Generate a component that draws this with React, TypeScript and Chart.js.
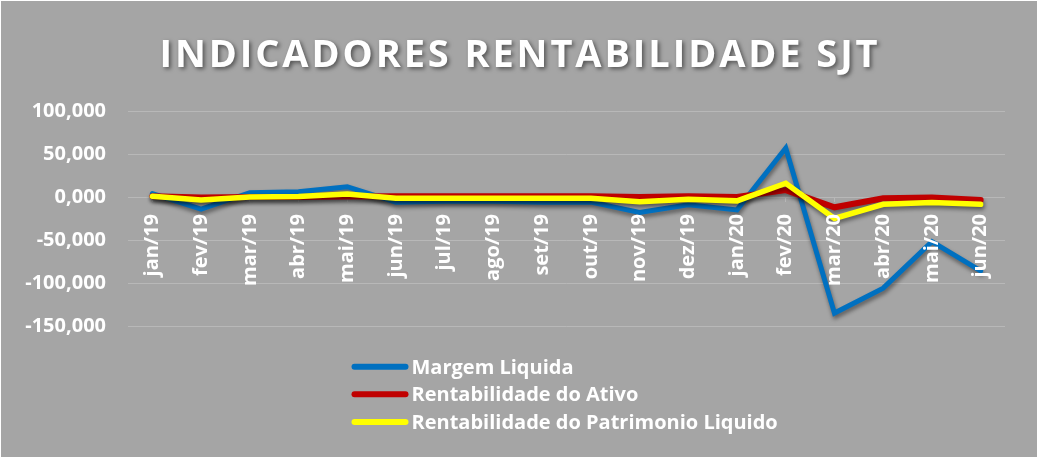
import React, { useEffect, useRef } from 'react';
import { Chart, registerables } from 'chart.js';

Chart.register(...registerables);

const categories = [
  'jan/19', 'fev/19', 'mar/19', 'abr/19', 'mai/19', 'jun/19', 'jul/19', 'ago/19', 'set/19',
  'out/19', 'nov/19', 'dez/19', 'jan/20', 'fev/20', 'mar/20', 'abr/20', 'mai/20', 'jun/20',
];
const margemLiquida = [4, -14, 5, 6, 12, -6, -5, -5, -6, -6, -18, -9, -15, 57, -135, -106, -52, -86];
const rentabilidadeAtivo = [1, -0.5, 0, 0, 0.5, 1, 1, 1, 1, 1, 0, 1, 0, 8, -12, -1.5, -0.5, -3.5];
const rentabilidadePatrimonio = [1, -3.5, 0, 0.5, 3.5, -1.5, -1.5, -1.5, -1.5, -1.5, -5.5, -2.5, -4.5, 16, -25, -8.5, -6.5, -8.5];
const seriesNames = ['Margem Liquida', 'Rentabilidade do Ativo', 'Rentabilidade do Patrimonio Liquido'];
const seriesColors = ['#0070C0', '#C00000', '#FFFF00'];
const yMin = -150;
const yMax = 100;
const yStep = 50;
const titleText = 'INDICADORES RENTABILIDADE SJT';

const gridColor = '#b8b8b8';
const fontFamily = '"Open Sans", "DejaVu Sans", sans-serif';

const fmt = (v: number) => v.toFixed(3).replace('.', ',');

const decorPlugin = {
  id: 'decor',
  beforeDatasetDraw(chart: any) {
    const ctx = chart.ctx;
    ctx.save();
    ctx.shadowColor = 'rgba(0,0,0,0.45)';
    ctx.shadowBlur = 4;
    ctx.shadowOffsetX = 1;
    ctx.shadowOffsetY = 3;
  },
  afterDatasetDraw(chart: any) {
    chart.ctx.restore();
  },
  afterDraw(chart: any) {
    const ctx = chart.ctx;
    // title
    ctx.save();
    ctx.font = `bold 38px ${fontFamily}`;
    (ctx as any).letterSpacing = '2.9px';
    ctx.fillStyle = '#ffffff';
    ctx.textAlign = 'center';
    ctx.textBaseline = 'alphabetic';
    ctx.shadowColor = 'rgba(0,0,0,0.5)';
    ctx.shadowBlur = 4;
    ctx.shadowOffsetX = 2;
    ctx.shadowOffsetY = 2;
    ctx.fillText(titleText, chart.width / 2 + 1, 66);
    ctx.restore();

    // legend
    const rowsY = [365.7, 393.3, 421];
    const x0 = 353.5;
    const x1 = 404.5;
    ctx.save();
    chart.data.datasets.forEach((ds: any, i: number) => {
      const y = rowsY[i];
      ctx.beginPath();
      ctx.strokeStyle = ds.borderColor;
      ctx.lineWidth = 6;
      ctx.lineCap = 'round';
      ctx.moveTo(x0, y);
      ctx.lineTo(x1, y);
      ctx.stroke();
      ctx.font = `bold 20px ${fontFamily}`;
      ctx.fillStyle = '#ffffff';
      ctx.textAlign = 'left';
      ctx.textBaseline = 'alphabetic';
      ctx.fillText(ds.label, 410.5, y + 7);
    });
    ctx.restore();
  },
};

export default function App() {
  const canvasRef = useRef<HTMLCanvasElement | null>(null);

  useEffect(() => {
    document.body.style.margin = '0';
    document.body.style.background = '#ffffff';
    let chart: Chart | null = null;
    let cancelled = false;
    const create = () => {
      if (cancelled || !canvasRef.current) return;
      chart = new Chart(canvasRef.current, {
        type: 'line',
        data: {
          labels: categories,
          datasets: [
            {
              label: seriesNames[0],
              data: margemLiquida,
              borderColor: seriesColors[0],
              backgroundColor: seriesColors[0],
              borderWidth: 5,
              order: 2,
            },
            {
              label: seriesNames[1],
              data: rentabilidadeAtivo,
              borderColor: seriesColors[1],
              backgroundColor: seriesColors[1],
              borderWidth: 6,
              order: 1,
            },
            {
              label: seriesNames[2],
              data: rentabilidadePatrimonio,
              borderColor: seriesColors[2],
              backgroundColor: seriesColors[2],
              borderWidth: 5.5,
              order: 0,
            },
          ],
        },
        options: {
          animation: false,
          responsive: false,
          devicePixelRatio: 1,
          layout: { padding: { left: 0, right: 32, top: 110, bottom: 131 } },
          elements: {
            line: { tension: 0, borderCapStyle: 'round', borderJoinStyle: 'miter', fill: false },
            point: { radius: 0, hoverRadius: 0 },
          },
          plugins: {
            legend: { display: false },
            title: { display: false },
            tooltip: { enabled: false },
          },
          scales: {
            x: {
              type: 'category',
              position: { y: 0 } as any,
              offset: true,
              grid: {
                display: true,
                drawOnChartArea: false,
                drawTicks: true,
                tickLength: 5,
                color: gridColor,
              },
              border: { display: false },
              ticks: {
                color: '#ffffff',
                font: { family: fontFamily, size: 20, weight: 'bold' },
                maxRotation: 90,
                minRotation: 90,
                autoSkip: false,
                padding: 12,
                z: 1,
              },
              afterFit: (s: any) => {
                s.height = 0;
              },
            },
            y: {
              min: yMin,
              max: yMax,
              grid: { color: gridColor, drawTicks: false, lineWidth: 1 },
              border: { display: false },
              ticks: {
                stepSize: yStep,
                color: '#ffffff',
                font: { family: fontFamily, size: 20, weight: 'bold' },
                padding: 22,
                callback: (v: any) => fmt(Number(v)),
              },
              afterFit: (s: any) => {
                s.width = 127;
              },
            },
          },
        },
        plugins: [decorPlugin],
      });
    };
    const fonts = (document as any).fonts;
    if (fonts && fonts.load) {
      Promise.all([
        fonts.load(`bold 20px "Open Sans"`),
        fonts.load(`bold 38px "Open Sans"`),
      ]).then(create, create);
    } else {
      create();
    }
    return () => {
      cancelled = true;
      if (chart) chart.destroy();
    };
  }, []);

  return (
    <div style={{ paddingLeft: 1, paddingTop: 1, background: '#ffffff', width: 1037, height: 457, boxSizing: 'border-box' }}>
      <canvas
        ref={canvasRef}
        width={1036}
        height={456}
        style={{ display: 'block', width: 1036, height: 456, background: '#a5a5a5' }}
      />
    </div>
  );
}
